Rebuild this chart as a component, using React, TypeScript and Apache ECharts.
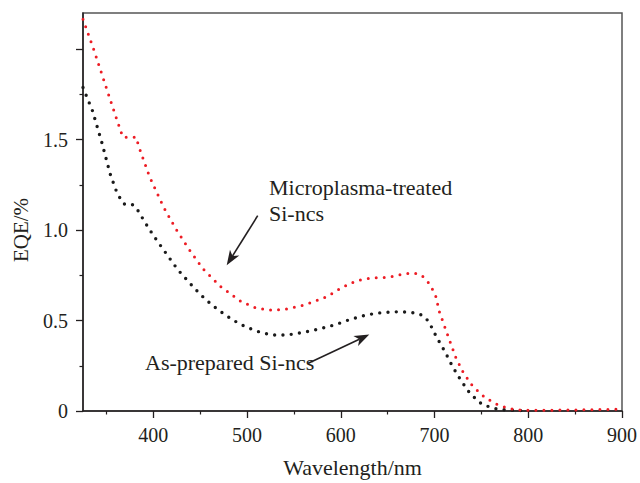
import React, { useEffect, useRef } from "react";
import * as echarts from "echarts";

// Axis tick positions / labels
const xMajorTicks = [400, 500, 600, 700, 800, 900];
const xMinorTicks = [350, 450, 550, 650, 750, 850];
const yMajorTicks = [0, 0.5, 1.0, 1.5, 2.0];
const yLabelTicks = [0, 0.5, 1.0, 1.5];
const yMinorTicks = [0.25, 0.75, 1.25, 1.75];

// Microplasma-treated Si-ncs (red)
const treatedWavelength = [
  325, 337, 348, 359, 367.5, 374, 382, 384, 396, 411, 424, 438, 453, 472, 494, 510, 527, 544, 561, 570, 586,
  601, 617, 634, 651, 669, 678, 686, 692.5, 697, 701, 703, 705, 711, 717, 723, 731, 741, 754, 769, 786, 795,
  820, 850, 880, 900,
];
const treatedEQE = [
  2.166, 1.99, 1.816, 1.643, 1.513, 1.513, 1.513, 1.469, 1.295, 1.127, 1.007, 0.895, 0.786, 0.687, 0.604, 0.568,
  0.557, 0.565, 0.586, 0.602, 0.634, 0.682, 0.721, 0.736, 0.739, 0.759, 0.763, 0.751, 0.717, 0.68, 0.641, 0.597,
  0.551, 0.464, 0.377, 0.292, 0.209, 0.135, 0.074, 0.03, 0.006, 0.004, 0.004, 0.006, 0.008, 0.01,
];

// As-prepared Si-ncs (black)
const preparedWavelength = [
  325, 335, 345, 354, 360, 364, 368.6, 377, 382, 391, 400.5, 416, 426, 438, 450, 463, 477, 492, 509, 526, 543,
  560, 577, 594, 611, 628, 645, 663, 680, 688, 694, 702, 711, 719, 728, 738, 751, 768, 786, 800,
];
const preparedEQE = [
  1.788, 1.661, 1.486, 1.31, 1.223, 1.181, 1.144, 1.144, 1.122, 1.044, 0.967, 0.854, 0.782, 0.712, 0.645, 0.584,
  0.53, 0.481, 0.443, 0.42, 0.42, 0.435, 0.453, 0.477, 0.508, 0.532, 0.545, 0.549, 0.542, 0.527, 0.493, 0.41,
  0.329, 0.248, 0.17, 0.096, 0.035, 0.009, 0.004, 0.0,
];

const FONT = "'Liberation Serif', 'Times New Roman', serif";
const TEXT = "#231f20";
const RED = "#ed1c24";

function arrow(x1: number, y1: number, x2: number, y2: number) {
  const dx = x2 - x1;
  const dy = y2 - y1;
  const len = Math.sqrt(dx * dx + dy * dy);
  const ux = dx / len;
  const uy = dy / len;
  const px = -uy;
  const py = ux;
  const headLen = 15;
  const half = 5.5;
  const bx = x2 - headLen * ux;
  const by = y2 - headLen * uy;
  const nx = x2 - 11 * ux;
  const ny = y2 - 11 * uy;
  return [
    {
      type: "line",
      shape: { x1, y1, x2: nx, y2: ny },
      style: { stroke: TEXT, lineWidth: 1.6 },
      silent: true,
    },
    {
      type: "polygon",
      shape: {
        points: [
          [x2, y2],
          [bx + half * px, by + half * py],
          [nx, ny],
          [bx - half * px, by - half * py],
        ],
      },
      style: { fill: TEXT, stroke: "none" },
      silent: true,
    },
  ];
}

export default function App() {
  const ref = useRef<HTMLDivElement>(null);
  useEffect(() => {
    if (!ref.current) return;
    const chart = echarts.init(ref.current, undefined, { renderer: "svg" });
    const treated = treatedWavelength.map((w, i) => [w, treatedEQE[i]]);
    const prepared = preparedWavelength.map((w, i) => [w, preparedEQE[i]]);
    const axisLine = { show: true, lineStyle: { color: "#231f20", width: 1.5 } };
    chart.setOption({
      animation: false,
      backgroundColor: "#ffffff",
      grid: {
        left: 83,
        right: 16,
        top: 13,
        bottom: 71,
        show: true,
        borderColor: "#555555",
        borderWidth: 1.5,
        backgroundColor: "transparent",
      },
      xAxis: [
        {
          type: "value",
          min: 325,
          max: 900,
          position: "bottom",
          axisLine,
          axisTick: {
            show: true,
            customValues: xMajorTicks,
            length: 7,
            lineStyle: { color: "#231f20", width: 1.3 },
          },
          axisLabel: {
            show: true,
            customValues: xMajorTicks,
            margin: 14,
            fontFamily: FONT,
            fontSize: 20,
            color: TEXT,
          },
          splitLine: { show: false },
          name: "Wavelength/nm",
          nameLocation: "middle",
          nameGap: 45,
          nameTextStyle: { fontFamily: FONT, fontSize: 22, color: TEXT },
        },
        {
          type: "value",
          min: 325,
          max: 900,
          position: "bottom",
          axisLine: { show: false },
          axisTick: {
            show: true,
            customValues: xMinorTicks,
            length: 3.5,
            lineStyle: { color: "#231f20", width: 1.2 },
          },
          axisLabel: { show: false },
          splitLine: { show: false },
        },
      ],
      yAxis: [
        {
          type: "value",
          min: 0,
          max: 2.2,
          position: "left",
          axisLine,
          axisTick: {
            show: true,
            customValues: yMajorTicks,
            length: 7,
            lineStyle: { color: "#231f20", width: 1.3 },
          },
          axisLabel: {
            show: true,
            customValues: yLabelTicks,
            margin: 15,
            fontFamily: FONT,
            fontSize: 20,
            color: TEXT,
            formatter: (v: number) => (v === 0 ? "0" : v.toFixed(1)),
          },
          splitLine: { show: false },
          name: "EQE/%",
          nameLocation: "middle",
          nameGap: 52,
          nameTextStyle: { fontFamily: FONT, fontSize: 21, color: TEXT, padding: [0, 36, 0, 0] },
        },
        {
          type: "value",
          min: 0,
          max: 2.2,
          position: "left",
          axisLine: { show: false },
          axisTick: {
            show: true,
            customValues: yMinorTicks,
            length: 3.5,
            lineStyle: { color: "#231f20", width: 1.2 },
          },
          axisLabel: { show: false },
          splitLine: { show: false },
        },
      ],
      series: [
        {
          name: "As-prepared Si-ncs",
          type: "line",
          data: prepared,
          xAxisIndex: 0,
          yAxisIndex: 0,
          showSymbol: false,
          symbol: "none",
          lineStyle: { color: "#1a1a1a", width: 3.4, type: [0, 8.3], cap: "round" },
          silent: true,
          z: 2,
        },
        {
          name: "Microplasma-treated Si-ncs",
          type: "line",
          data: treated,
          xAxisIndex: 0,
          yAxisIndex: 0,
          showSymbol: false,
          symbol: "none",
          lineStyle: { color: RED, width: 3, type: [0, 8], cap: "round" },
          silent: true,
          z: 3,
        },
      ],
      graphic: [
        {
          type: "text",
          x: 269,
          y: 187,
          style: {
            text: "Microplasma-treated",
            fontFamily: FONT,
            fontSize: 22,
            fill: TEXT,
            verticalAlign: "middle",
            align: "left",
          },
          silent: true,
        },
        {
          type: "text",
          x: 269,
          y: 213,
          style: {
            text: "Si-ncs",
            fontFamily: FONT,
            fontSize: 22,
            fill: TEXT,
            verticalAlign: "middle",
            align: "left",
          },
          silent: true,
        },
        {
          type: "text",
          x: 145,
          y: 362,
          style: {
            text: "As-prepared Si-ncs",
            fontFamily: FONT,
            fontSize: 22,
            fill: TEXT,
            verticalAlign: "middle",
            align: "left",
          },
          silent: true,
        },
        ...arrow(257.7, 215.7, 226.7, 265.3),
        ...arrow(308.3, 363.3, 369.3, 334.6),
      ],
    });
    return () => chart.dispose();
  }, []);
  return (
    <div
      ref={ref}
      style={{ position: "absolute", left: 0, top: 0, width: 640, height: 483, background: "#fff" }}
    />
  );
}
